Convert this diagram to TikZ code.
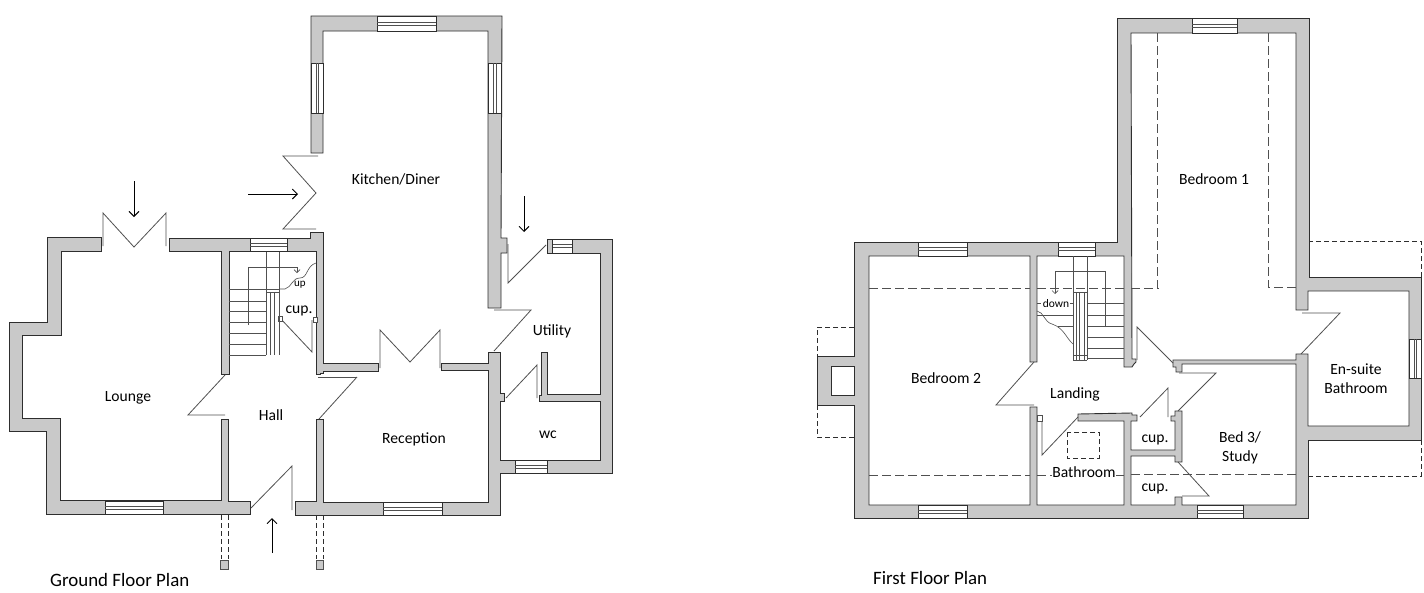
\documentclass[tikz,border=0pt]{standalone}
\usepackage{fontspec}
\setmainfont{Carlito}
\usetikzlibrary{arrows.meta}
\definecolor{wallfill}{HTML}{C9C9C9}
\definecolor{wallline}{HTML}{2E2E2E}
\definecolor{thin}{HTML}{505050}
\tikzset{
  wall/.style={fill=wallfill,draw=wallline,line width=0.9pt,line join=miter},
  winpane/.style={fill=white,draw=wallline,line width=0.8pt},
  winbar/.style={draw=thin,line width=0.5pt},
  door/.style={draw=thin,line width=0.8pt,line join=miter},
  thinline/.style={draw=thin,line width=0.6pt},
  roofdash/.style={draw=thin,line width=0.8pt,dash pattern=on 9pt off 4pt},
  outdash/.style={draw=wallline,line width=0.8pt,dash pattern=on 5pt off 3pt},
  entry/.style={draw=black,line width=0.9pt,-{Straight Barb[length=5pt,width=10pt]}},
  lab/.style={font=\fontsize{15.6}{19}\selectfont,text=black,inner sep=0pt,align=center},
  smalllab/.style={font=\fontsize{11}{12}\selectfont,text=black,inner sep=0pt},
  title/.style={font=\fontsize{18.9}{21}\selectfont,text=black,inner sep=0pt,anchor=base west},
  stairtip/.style={draw=thin,line width=0.7pt,-{Straight Barb[length=3pt,width=6pt]}}
}
\newcommand{\winh}[4]{%
  \path[winpane] (#1,#2) rectangle (#3,#4);
  \draw[winbar] (#1,{#2+(#4-#2)*0.4}) -- (#3,{#2+(#4-#2)*0.4});
  \draw[winbar] (#1,{#2+(#4-#2)*0.62}) -- (#3,{#2+(#4-#2)*0.62});}
\newcommand{\winv}[4]{%
  \path[winpane] (#1,#2) rectangle (#3,#4);
  \draw[winbar] ({#1+(#3-#1)*0.4},#2) -- ({#1+(#3-#1)*0.4},#4);
  \draw[winbar] ({#1+(#3-#1)*0.62},#2) -- ({#1+(#3-#1)*0.62},#4);}
\begin{document}
\begin{tikzpicture}[x=1pt,y=-1pt]
\path[use as bounding box,fill=white] (0,0) rectangle (1424,592);
%% ===== GROUND FLOOR =====
% lounge + west hall wall
\path[wall] (101,237) -- (47,237) -- (47,322) -- (9,322) -- (9,431) -- (46,431) -- (46,514) -- (250,514) -- (250,501) -- (228,501) -- (228,419) -- (221,419) -- (221,500) -- (60,500) -- (60,418) -- (22,418) -- (22,335) -- (61,335) -- (61,251) -- (101,251) -- cycle;
% north lounge/hall wall and stair enclosure
\path[wall] (169,238) -- (310,238) -- (310,232) -- (323,232) -- (323,363) -- (378,363) -- (378,371) -- (323,371) -- (323,373) -- (320,373) -- (320,374) -- (316,374) -- (316,251) -- (229,251) -- (229,374) -- (221,374) -- (221,251) -- (169,251) -- cycle;
% kitchen
\path[wall] (311,153) -- (311,16) -- (502,16) -- (501,238) -- (507,238) -- (507,253) -- (501,253) -- (501,308) -- (488,308) -- (488,31) -- (323,31) -- (323,153) -- cycle;
% reception, wc, utility
\path[wall] (488,352) -- (500,352) -- (500,393) -- (504,393) -- (504,401) -- (500,401) -- (500,460) -- (600,460) -- (600,401) -- (539,401) -- (539,395) -- (541,395) -- (541,352) -- (547,352) -- (547,394) -- (600,394) -- (600,253) -- (547,253) -- (547,239) -- (612,239) -- (612,473) -- (500,473) -- (500,515) -- (295,515) -- (295,501) -- (316,501) -- (316,419) -- (323,419) -- (323,502) -- (488,502) -- (488,370) -- (441,370) -- (441,363) -- (488,363) -- cycle;
% windows
\winh{105}{501}{163}{514}
\winh{383}{502}{442}{515}
\winh{250}{238}{287}{251}
\winh{377}{16}{436}{31}
\winv{311}{63}{323}{113}
\winv{488}{63}{501}{113}
\winh{515}{460}{547}{473}
\winh{552}{239}{572}{253}
\draw[wallline,line width=0.8pt] (547,239) -- (547,253) (552,239) -- (552,253);
% doors
\draw[door] (103,246) -- (103,213) -- (134,247) -- (166,213) -- (166,246);
\draw[door] (318,156) -- (283,156) -- (316,193) -- (283,229) -- (316,229);
\draw[door] (225,375) -- (188,415) -- (225,415);
\draw[door] (357,377) -- (318,377);
\draw[door] (357,377) -- (319,419);
\draw[door] (251,508) -- (292,466) -- (292,510);
\draw[door] (380,368) -- (380,330) -- (410,362) -- (440,330) -- (440,368);
\draw[door] (494,310) -- (531,310) -- (494,351);
\draw[door] (508,244) -- (508,283) -- (546,245);
\draw[door] (506,398) -- (537,365) -- (537,398);
\draw[door] (280,318) -- (312,352) -- (312,320);
\draw[thinline,fill=white] (278,316) rectangle (282,321);
\draw[thinline,fill=white] (313,317) rectangle (317,322);
% stair
\draw[thinline] (266,252) -- (266,355) (279,252) -- (279,292) (270,292) -- (270,355) (274.5,292) -- (274.5,355) (279,292) -- (279,355) (266,292) -- (279,292);
\draw[thinline] (229,289) -- (279,289);
\foreach \yy in {301,311,322,333,344,355} \draw[thinline] (229,\yy) -- (266,\yy);
\draw[thinline] (279,289) -- (285,289) .. controls (292,287) and (292,278) .. (300,278) .. controls (308,278) and (306,266) .. (316,263);
\draw[stairtip] (248,325) -- (248,267) -- (297,267) -- (297,273);
% porch
\draw[outdash] (221,515) -- (221,559) (228,515) -- (228,559) (316,515) -- (316,559) (323,515) -- (323,559);
\draw[thinline,fill=wallfill] (220.5,560) rectangle (228.5,569);
\draw[thinline,fill=wallfill] (316,560) rectangle (323.5,569);
% entry arrows
\coordinate (aLt) at (134,181); \coordinate (aLh) at (134,217);
\coordinate (aKt) at (248,194); \coordinate (aKh) at (298,194);
\coordinate (aUt) at (524,196); \coordinate (aUh) at (524,232);
\coordinate (aFt) at (272,553); \coordinate (aFh) at (272,518);
\draw[entry] (aLt) -- (aLh);
\draw[entry] (aKt) -- (aKh);
\draw[entry] (aUt) -- (aUh);
\draw[entry] (aFt) -- (aFh);
% labels
\node[lab] (lLounge) at (128,398) {Lounge};
\node[lab] (lHall) at (271,415.5) {Hall};
\node[lab] (lKitchen) at (396,179.5) {Kitchen/Diner};
\node[lab] (lRecep) at (414,439) {Reception};
\node[lab] (lUtil) at (552,331.5) {Utility};
\node[lab] (lWc) at (548,434.5) {wc};
\node[lab] (lCupG) at (299,310.5) {cup.};
\node[smalllab] (lUp) at (300,285) {up};
\node[title] (tG) at (50,586) {Ground Floor Plan};
%% ===== FIRST FLOOR =====
% outer dashes
\draw[outdash] (854,327) -- (817,327) -- (817,356);
\draw[outdash] (817,405) -- (817,437) -- (854,437);
\draw[outdash] (1308,241) -- (1421,241) -- (1421,277);
\draw[outdash] (1421,440) -- (1421,476) -- (1308,476);
% main wall
\path[wall] (854,242) -- (1117,242) -- (1117,18) -- (1309,18) -- (1309,277) -- (1421,277) -- (1421,440) -- (1308,440) -- (1308,518) -- (854,518) -- cycle;
% interior carve-outs (rooms)
\path[fill=white,draw=wallline,line width=0.9pt] (869,256) -- (1030,256) -- (1030,362) -- (1037,362) -- (1037,256) -- (1124,256) -- (1124,367) -- (1132,367) -- (1134,364) -- (1136,362) -- (1136,359) -- (1132,359) -- (1131,33) -- (1296,33) -- (1296,310) -- (1308,310) -- (1308,291) -- (1409,291) -- (1409,426) -- (1308,426) -- (1308,354) -- (1296,354) -- (1296,360) -- (1173,360) -- (1173,367) -- (1176,367) -- (1176,372) -- (1182,372) -- (1182,364) -- (1296,364) -- (1296,505) -- (1182,505) -- (1182,497) -- (1175,497) -- (1175,505) -- (1131,505) -- (1131,456) -- (1175,456) -- (1175,462) -- (1182,462) -- (1182,411) -- (1175,411) -- (1175,416) -- (1171,416) -- (1171,421) -- (1175,421) -- (1175,450) -- (1131,450) -- (1131,421) -- (1137,421) -- (1137,415) -- (1132,415) -- (1132,413) -- (1078,414) -- (1078,421) -- (1124,421) -- (1124,505) -- (1037,505) -- (1037,407) -- (1030,407) -- (1030,505) -- (869,505) -- cycle;
% roof dashes on the rooms
\draw[roofdash] (869,288) -- (1030,288);
\draw[roofdash] (1037,288) -- (1124,288);
\draw[roofdash] (1131,288) -- (1159,288);
\draw[roofdash] (869,475) -- (1030,475);
\draw[roofdash] (1037,475) -- (1124,475);
\draw[roofdash] (1131,474) -- (1296,474);
\draw[roofdash] (1157,33) -- (1157,288);
\draw[roofdash] (1268,33) -- (1268,287) -- (1296,287);
\draw[outdash,line width=0.7pt] (1067,432) rectangle (1099,458);
% chimney
\path[wall] (854,356) -- (817,356) -- (817,405) -- (854,405);
\path[fill=wallfill] (850,356.5) rectangle (856,404.5);
\draw[wallline,line width=0.9pt,fill=white] (854,366) -- (831,366) -- (831,395) -- (854,395) -- cycle;
% windows
\winh{918}{242}{967}{256}
\winh{918}{505}{967}{518}
\winh{1058}{242}{1095}{256}
\winh{1192}{18}{1237}{33}
\winh{1197}{505}{1243}{518}
\winv{1409}{339}{1421}{378}
% doors
\draw[door] (1034,362) -- (996,405) -- (1034,405);
\draw[door] (1042,418) -- (1042,455) -- (1078,417);
\draw[thinline,fill=white] (1037,415) rectangle (1042,421);
\draw[door] (1137,360) -- (1137,327) -- (1173,363);
\draw[door] (1179,373) -- (1216,373) -- (1178,411);
\draw[door] (1140,417) -- (1168,388) -- (1168,417);
\draw[door] (1178,462) -- (1209,496) -- (1182,496);
\draw[door] (1302,313) -- (1340,313) -- (1301,354);
% stair
\draw[thinline] (1073,256) -- (1073,360) (1087,256) -- (1087,360);
\draw[thinline,line width=0.5pt] (1076,292) -- (1076,360) (1079,292) -- (1079,360) (1084,292) -- (1084,360);
\draw[thinline] (1073,292) -- (1087,292) (1073,355) -- (1087,355) (1073,360) -- (1087,360);
\foreach \yy in {303,315,326,337,348,358} \draw[thinline] (1087,\yy) -- (1124,\yy);
\draw[thinline] (1037,303) -- (1041,303) (1037,315) -- (1073,315) (1058,326) -- (1073,326);
\draw[thinline] (1070,303) -- (1073,303);
\draw[thinline] (1037,311) .. controls (1044,312) and (1044,322) .. (1052,324) .. controls (1064,328) and (1066,338) .. (1073,344);
\draw[stairtip] (1105,327) -- (1105,271) -- (1055,271) -- (1055,294);
% labels
\node[lab] (lB1) at (1214,179) {Bedroom 1};
\node[lab] (lB2) at (946,378) {Bedroom 2};
\node[lab] (lLand) at (1075,394.5) {Landing};
\node[lab,fill=white] (lBath) at (1084,472.5) {Bathroom};
\node[lab] (lBed3) at (1240,447.5) {Bed 3/\\Study};
\node[lab] (lEn) at (1356,379) {En-suite\\Bathroom};
\node[lab] (lCup1) at (1155,439.5) {cup.};
\node[lab] (lCup2) at (1155,488.5) {cup.};
\node[smalllab,font=\fontsize{11.5}{12}\selectfont,fill=white,inner sep=0.5pt] (lDown) at (1056,304) {down};
\node[title] (tF) at (873,584) {First Floor Plan};
\end{tikzpicture}
\end{document}
